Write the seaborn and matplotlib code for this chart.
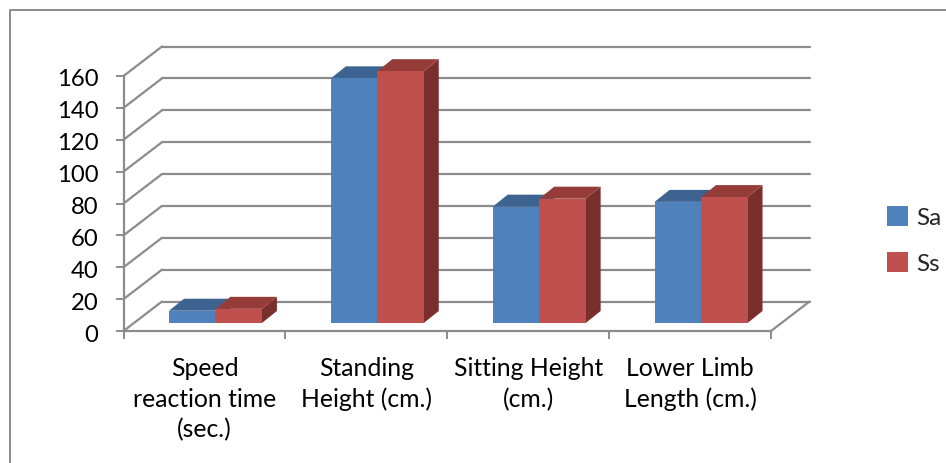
import pandas as pd
import seaborn as sns
import matplotlib.pyplot as plt
from matplotlib.lines import Line2D
from matplotlib.patches import Polygon
from matplotlib.transforms import IdentityTransform, ScaledTranslation, offset_copy

# values
categorias = ['Speed\nreaction time\n(sec.)', 'Standing\nHeight (cm.)',
              'Sitting Height\n(cm.)', 'Lower Limb\nLength (cm.)']
sa = [7.7, 153.5, 73, 76]
ss = [8.9, 158, 78, 79]
ticks_y = [0, 20, 40, 60, 80, 100, 120, 140, 160]

ANCHO, ALTO = 946, 463
GRIS = '#8c8c8c'
AZUL, ROJO = '#4F81BD', '#C0504D'
OSCUROS = {AZUL: ('#3D6391', '#3A5E8A'), ROJO: ('#953C39', '#7B2F2D')}

sns.set_theme(style='white')
plt.rcParams['font.family'] = ['Lato', 'DejaVu Sans']

df = pd.DataFrame({
    'cat': categorias * 2,
    'valor': sa + ss,
    'serie': ['Sa'] * 4 + ['Ss'] * 4,
})


def caja(izq, der, arriba, abajo):
    return [izq / ANCHO, 1 - abajo / ALTO, (der - izq) / ANCHO, (abajo - arriba) / ALTO]


fig = plt.figure(figsize=(ANCHO / 100, ALTO / 100), dpi=100)
# marco: solo arriba e izquierda quedan dentro de la imagen
marco_x = 9.5 / ANCHO
marco_y = 1 - 9.5 / ALTO
fig.add_artist(Line2D([marco_x, marco_x, 1], [0, marco_y, marco_y], color=GRIS, lw=1.4,
                      transform=fig.transFigure))

# plano frontal: eje de valores y categorias
ax = fig.add_axes(caja(123.5, 771, 76, 331))
ax.set_xlim(-0.5, 3.5)
ax.set_ylim(0, 160)
ax.patch.set_alpha(0)
for lado in ['top', 'right']:
    ax.spines[lado].set_visible(False)
for lado in ['left', 'bottom']:
    ax.spines[lado].set_color(GRIS)
    ax.spines[lado].set_linewidth(1.6)
ax.set_yticks(ticks_y)
ax.tick_params(axis='y', length=6, width=1.4, color=GRIS, labelsize=17.2, labelcolor='black', pad=12, left=True)
for etiqueta in ax.get_yticklabels():
    etiqueta.set_transform(etiqueta.get_transform() + ScaledTranslation(0, -2 / 100, fig.dpi_scale_trans))
ax.set_xticks(range(4), categorias, linespacing=1.38)
ax.set_xticks([-0.5, 0.5, 1.5, 2.5, 3.5], minor=True)
ax.tick_params(axis='x', which='major', length=0, labelsize=17.8, labelcolor='black', pad=19)
ax.tick_params(axis='x', which='minor', length=6, width=1.4, color=GRIS, bottom=True)

# pared del fondo: lineas desplazadas en pixeles
DX, DY = 38.5, 29.5
fondo = offset_copy(ax.transData, fig, x=DX, y=DY, units='dots')
fig.canvas.draw()
for t in ticks_y:
    ax.plot([-0.5, 3.5], [t, t], color=GRIS, lw=1.6, transform=fondo, clip_on=False, zorder=1)
    x0, y0 = ax.transData.transform((-0.5, t))
    ax.add_line(Line2D([x0, x0 + DX], [y0, y0 + DY], color=GRIS, lw=1.6,
                       transform=IdentityTransform(), clip_on=False, zorder=1))
x1, y1 = ax.transData.transform((3.5, 0))
ax.add_line(Line2D([x1, x1 + DX], [y1, y1 + DY], color=GRIS, lw=1.6,
                   transform=IdentityTransform(), clip_on=False, zorder=1))

# barras, metidas un poco dentro del suelo
ax_b = fig.add_axes(caja(123.5 + 11, 771 + 11, 76 - 8, 331 - 8))
sns.barplot(data=df, x='cat', y='valor', hue='serie', palette=[AZUL, ROJO], width=0.574,
            saturation=1, gap=0, ax=ax_b, legend=True, linewidth=0)
ax_b.set_xlim(-0.5, 3.5)
ax_b.set_ylim(0, 160)
ax_b.axis('off')
ax_b.patch.set_alpha(0)
fig.canvas.draw()

FX, FY = 15, 12
for i, barra in enumerate(ax_b.patches[:8]):
    color = AZUL if i < 4 else ROJO
    arriba, lado = OSCUROS[color]
    z = 3 + i // 4 * 2
    barra.set_zorder(z + 1)
    (xa, ya), (xb, yb) = ax_b.transData.transform(
        [(barra.get_x(), barra.get_y()), (barra.get_x() + barra.get_width(), barra.get_height())])
    ax_b.add_patch(Polygon([(xb, ya), (xb + FX, ya + FY), (xb + FX, yb + FY), (xb, yb)], facecolor=lado,
                           edgecolor='none', transform=IdentityTransform(), clip_on=False, zorder=z))
    ax_b.add_patch(Polygon([(xa, yb), (xa + FX, yb + FY), (xb + FX, yb + FY), (xb, yb)], facecolor=arriba,
                           edgecolor='none', transform=IdentityTransform(), clip_on=False, zorder=z))

ley = ax_b.get_legend()
ley.remove()
ax_b.legend(ley.legend_handles, ['Sa', 'Ss'], loc='center left', bbox_to_anchor=(887 / ANCHO, 1 - 240.5 / ALTO),
            bbox_transform=fig.transFigure, frameon=False, fontsize=17.5, handlelength=0.87, handleheight=0.87,
            handletextpad=0.33, labelspacing=0.97, borderaxespad=0, borderpad=0)

fig.savefig('out.png', dpi=100)
